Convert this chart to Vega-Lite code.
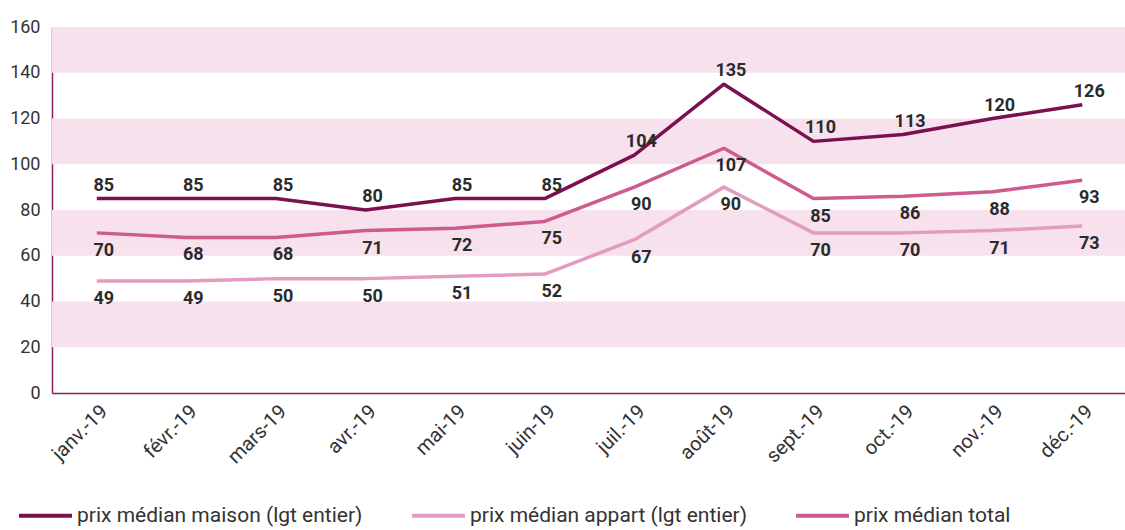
{
  "$schema": "https://vega.github.io/schema/vega-lite/v6.json",
  "width": 1075,
  "height": 366,
  "autosize": {"type": "none"},
  "padding": {"left": 52, "top": 27, "right": 0, "bottom": 137},
  "background": "white",
  "config": {
    "view": {"stroke": null},
    "font": "Roboto",
    "axis": {"grid": false, "ticks": false, "domainColor": "#8b1f5f", "domainWidth": 1.5, "labelColor": "#333333", "labelFontSize": 18, "labelFont": "Roboto", "title": null}
  },
  "datasets": {
    "bands": [
      {"lo": 20, "hi": 40},
      {"lo": 60, "hi": 80},
      {"lo": 100, "hi": 120},
      {"lo": 140, "hi": 160}
    ],
    "series": [
      {"mois": "janv.-19", "serie": "prix médian maison (lgt entier)", "valeur": 85},
      {"mois": "févr.-19", "serie": "prix médian maison (lgt entier)", "valeur": 85},
      {"mois": "mars-19", "serie": "prix médian maison (lgt entier)", "valeur": 85},
      {"mois": "avr.-19", "serie": "prix médian maison (lgt entier)", "valeur": 80},
      {"mois": "mai-19", "serie": "prix médian maison (lgt entier)", "valeur": 85},
      {"mois": "juin-19", "serie": "prix médian maison (lgt entier)", "valeur": 85},
      {"mois": "juil.-19", "serie": "prix médian maison (lgt entier)", "valeur": 104},
      {"mois": "août-19", "serie": "prix médian maison (lgt entier)", "valeur": 135},
      {"mois": "sept.-19", "serie": "prix médian maison (lgt entier)", "valeur": 110},
      {"mois": "oct.-19", "serie": "prix médian maison (lgt entier)", "valeur": 113},
      {"mois": "nov.-19", "serie": "prix médian maison (lgt entier)", "valeur": 120},
      {"mois": "déc.-19", "serie": "prix médian maison (lgt entier)", "valeur": 126},
      {"mois": "janv.-19", "serie": "prix médian appart (lgt entier)", "valeur": 49},
      {"mois": "févr.-19", "serie": "prix médian appart (lgt entier)", "valeur": 49},
      {"mois": "mars-19", "serie": "prix médian appart (lgt entier)", "valeur": 50},
      {"mois": "avr.-19", "serie": "prix médian appart (lgt entier)", "valeur": 50},
      {"mois": "mai-19", "serie": "prix médian appart (lgt entier)", "valeur": 51},
      {"mois": "juin-19", "serie": "prix médian appart (lgt entier)", "valeur": 52},
      {"mois": "juil.-19", "serie": "prix médian appart (lgt entier)", "valeur": 67},
      {"mois": "août-19", "serie": "prix médian appart (lgt entier)", "valeur": 90},
      {"mois": "sept.-19", "serie": "prix médian appart (lgt entier)", "valeur": 70},
      {"mois": "oct.-19", "serie": "prix médian appart (lgt entier)", "valeur": 70},
      {"mois": "nov.-19", "serie": "prix médian appart (lgt entier)", "valeur": 71},
      {"mois": "déc.-19", "serie": "prix médian appart (lgt entier)", "valeur": 73},
      {"mois": "janv.-19", "serie": "prix médian total", "valeur": 70},
      {"mois": "févr.-19", "serie": "prix médian total", "valeur": 68},
      {"mois": "mars-19", "serie": "prix médian total", "valeur": 68},
      {"mois": "avr.-19", "serie": "prix médian total", "valeur": 71},
      {"mois": "mai-19", "serie": "prix médian total", "valeur": 72},
      {"mois": "juin-19", "serie": "prix médian total", "valeur": 75},
      {"mois": "juil.-19", "serie": "prix médian total", "valeur": 90},
      {"mois": "août-19", "serie": "prix médian total", "valeur": 107},
      {"mois": "sept.-19", "serie": "prix médian total", "valeur": 85},
      {"mois": "oct.-19", "serie": "prix médian total", "valeur": 86},
      {"mois": "nov.-19", "serie": "prix médian total", "valeur": 88},
      {"mois": "déc.-19", "serie": "prix médian total", "valeur": 93}
    ]
  },
  "layer": [
    {
      "data": {"name": "bands"},
      "mark": {"type": "rect", "color": "#f7e1ec"},
      "encoding": {
        "y": {"field": "lo", "type": "quantitative", "scale": {"domain": [0, 160]}},
        "y2": {"field": "hi"}
      }
    },
    {
      "data": {"name": "series"},
      "layer": [
        {
          "mark": {"type": "line", "strokeWidth": 3.5, "interpolate": "linear", "strokeJoin": "round"},
          "encoding": {
            "x": {
              "field": "mois", "type": "ordinal",
              "sort": ["janv.-19", "févr.-19", "mars-19", "avr.-19", "mai-19", "juin-19", "juil.-19", "août-19", "sept.-19", "oct.-19", "nov.-19", "déc.-19"],
              "scale": {"type": "point", "padding": 0.5},
              "axis": {"labelAngle": -45, "labelPadding": 8, "labelFontSize": 20, "domain": true}
            },
            "y": {
              "field": "valeur", "type": "quantitative",
              "scale": {"domain": [0, 160]},
              "axis": {"values": [0, 20, 40, 60, 80, 100, 120, 140, 160], "labelPadding": 12, "domain": true}
            },
            "color": {
              "field": "serie", "type": "nominal",
              "scale": {
                "domain": ["prix médian maison (lgt entier)", "prix médian appart (lgt entier)", "prix médian total"],
                "range": ["#7b0f4f", "#e39bbf", "#cd5b8d"]
              },
              "legend": {
                "title": null,
                "orient": "none",
                "direction": "horizontal",
                "legendX": -35,
                "legendY": 460,
                "padding": 0,
                "symbolType": "stroke",
                "symbolSize": 2800,
                "symbolStrokeWidth": 4,
                "labelFontSize": 21,
                "labelColor": "#333333",
                "labelOffset": 3,
                "columnPadding": 41,
                "labelLimit": 400
              }
            }
          }
        },
        {
          "transform": [{"filter": "datum.serie === 'prix médian maison (lgt entier)'"}],
          "mark": {"type": "text", "fontWeight": "bold", "fontSize": 18, "color": "#2b2b2b", "dx": 7, "dy": -13, "baseline": "middle"},
          "encoding": {
            "x": {"field": "mois", "type": "ordinal", "sort": ["janv.-19", "févr.-19", "mars-19", "avr.-19", "mai-19", "juin-19", "juil.-19", "août-19", "sept.-19", "oct.-19", "nov.-19", "déc.-19"]},
            "y": {"field": "valeur", "type": "quantitative"},
            "text": {"field": "valeur", "type": "quantitative"}
          }
        },
        {
          "transform": [{"filter": "datum.serie !== 'prix médian maison (lgt entier)'"}],
          "mark": {"type": "text", "fontWeight": "bold", "fontSize": 18, "color": "#2b2b2b", "dx": 7, "dy": 18, "baseline": "middle"},
          "encoding": {
            "x": {"field": "mois", "type": "ordinal", "sort": ["janv.-19", "févr.-19", "mars-19", "avr.-19", "mai-19", "juin-19", "juil.-19", "août-19", "sept.-19", "oct.-19", "nov.-19", "déc.-19"]},
            "y": {"field": "valeur", "type": "quantitative"},
            "text": {"field": "valeur", "type": "quantitative"}
          }
        }
      ]
    }
  ]
}
